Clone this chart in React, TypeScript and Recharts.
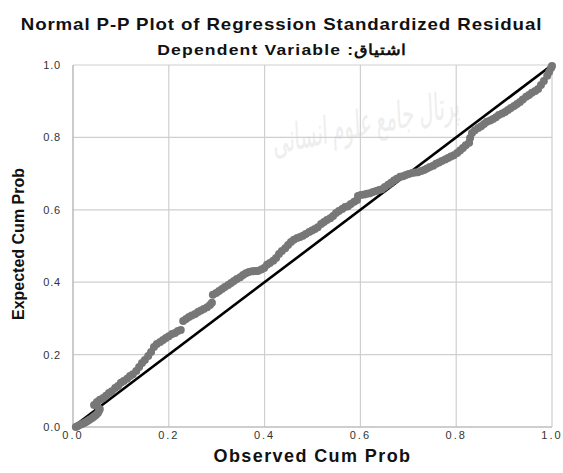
import {
  ScatterChart,
  Scatter,
  XAxis,
  YAxis,
  CartesianGrid,
  ReferenceLine,
} from "recharts";

const observed = [
  0.006, 0.01, 0.015, 0.019, 0.023, 0.027, 0.031, 0.035, 0.04, 0.044,
  0.048, 0.052, 0.054, 0.056,
  0.044, 0.05, 0.056, 0.063, 0.069, 0.075, 0.081, 0.088, 0.094, 0.1,
  0.106, 0.113, 0.119, 0.125, 0.132, 0.138, 0.144, 0.15, 0.157, 0.163,
  0.169, 0.175, 0.182, 0.188, 0.194, 0.2, 0.207, 0.213, 0.219, 0.225,
  0.23, 0.236, 0.242, 0.248, 0.255, 0.261, 0.267, 0.273, 0.28, 0.286,
  0.29,
  0.292, 0.299, 0.305, 0.311, 0.317, 0.324, 0.33, 0.336, 0.342, 0.349,
  0.355, 0.361, 0.367, 0.374, 0.38, 0.386, 0.393, 0.399, 0.405, 0.411,
  0.418, 0.424, 0.43, 0.436, 0.443, 0.449, 0.455, 0.461, 0.468, 0.474,
  0.48, 0.486, 0.493, 0.499, 0.505, 0.511, 0.518, 0.524, 0.53, 0.537,
  0.543, 0.549, 0.555, 0.562, 0.568, 0.574, 0.58, 0.587, 0.593,
  0.595, 0.601, 0.608, 0.614, 0.62, 0.626, 0.633, 0.639, 0.645, 0.651,
  0.658, 0.664, 0.67, 0.676, 0.683, 0.689, 0.695, 0.701, 0.708, 0.714,
  0.72, 0.727, 0.733, 0.739, 0.745, 0.752, 0.758, 0.764, 0.77, 0.777,
  0.783, 0.789, 0.795, 0.802, 0.808, 0.814, 0.82, 0.827,
  0.829, 0.833, 0.839, 0.846, 0.852, 0.858, 0.864, 0.871, 0.877, 0.883,
  0.889, 0.896, 0.902, 0.908, 0.914, 0.921, 0.927, 0.933, 0.939, 0.946,
  0.952, 0.958, 0.965, 0.971, 0.977, 0.983, 0.99, 0.994, 0.998, 1.0,
];
const expected = [
  0.0, 0.003, 0.006, 0.008, 0.011, 0.014, 0.017, 0.021, 0.025, 0.029,
  0.033, 0.039, 0.044, 0.05,
  0.061, 0.069, 0.075, 0.08, 0.086, 0.094, 0.099, 0.108, 0.113, 0.122,
  0.127, 0.133, 0.141, 0.146, 0.155, 0.166, 0.177, 0.185, 0.196, 0.207,
  0.221, 0.229, 0.235, 0.24, 0.246, 0.251, 0.257, 0.26, 0.265, 0.268,
  0.293, 0.298, 0.304, 0.308, 0.312, 0.318, 0.322, 0.326, 0.331, 0.337,
  0.343,
  0.365, 0.37, 0.376, 0.381, 0.387, 0.392, 0.398, 0.403, 0.409, 0.414,
  0.42, 0.425, 0.428, 0.43, 0.431, 0.431, 0.435, 0.439, 0.448, 0.453,
  0.459, 0.467, 0.478, 0.486, 0.494, 0.503, 0.511, 0.517, 0.522, 0.525,
  0.528, 0.533, 0.539, 0.543, 0.547, 0.552, 0.561, 0.566, 0.572, 0.577,
  0.583, 0.591, 0.597, 0.602, 0.608, 0.61, 0.616, 0.622, 0.627,
  0.638, 0.641, 0.642, 0.644, 0.646, 0.649, 0.652, 0.655, 0.657, 0.663,
  0.669, 0.675, 0.681, 0.686, 0.691, 0.693, 0.696, 0.699, 0.702, 0.703,
  0.704, 0.707, 0.71, 0.714, 0.718, 0.722, 0.727, 0.731, 0.735, 0.739,
  0.743, 0.747, 0.751, 0.757, 0.764, 0.771, 0.778, 0.785,
  0.798, 0.812, 0.82, 0.826, 0.831, 0.837, 0.843, 0.847, 0.851, 0.856,
  0.862, 0.866, 0.87, 0.876, 0.881, 0.887, 0.892, 0.898, 0.905, 0.912,
  0.917, 0.923, 0.928, 0.934, 0.945, 0.956, 0.97, 0.981, 0.992, 0.997,
];
const ticks = [0, 0.2, 0.4, 0.6, 0.8, 1.0];

const points = observed.map((x, i) => ({ x, y: expected[i] }));

const font = "Liberation Sans, Arial, sans-serif";

const Dot = (props: any) => (
  <circle cx={props.cx} cy={props.cy} r={4} fill="#777777" />
);

export default function App() {
  return (
    <div
      style={{
        position: "absolute",
        left: 0,
        top: 0,
        width: 563,
        height: 473,
        background: "#fff",
        fontFamily: font,
        overflow: "hidden",
      }}
    >
      {/* faint watermark behind the plot */}
      <div
        style={{
          position: "absolute",
          left: 280,
          top: 110,
          width: 180,
          textAlign: "center",
          fontSize: 19,
          color: "#eeeeee",
          direction: "rtl",
          whiteSpace: "nowrap",
          transform: "scaleY(2) rotate(-6deg)",
        }}
      >
        پرتال جامع علوم انسانی
      </div>

      <div
        style={{
          position: "absolute",
          left: 0,
          top: 15,
          width: 563,
          textAlign: "center",
          fontSize: 17,
          fontWeight: "bold",
          color: "#111",
          letterSpacing: 0.8,
          whiteSpace: "nowrap",
          transform: "scaleX(1.1)",
        }}
      >
        Normal P-P Plot of Regression Standardized Residual
      </div>
      <div
        style={{
          position: "absolute",
          left: 0,
          top: 41,
          width: 563,
          textAlign: "center",
          fontSize: 15,
          fontWeight: "bold",
          color: "#111",
          letterSpacing: 1,
          whiteSpace: "nowrap",
          transform: "scaleX(1.17)",
        }}
      >
        Dependent Variable :اشتیاق
      </div>

      <div style={{ position: "absolute", left: 0, top: 0 }}>
        <ScatterChart
          width={563}
          height={473}
          margin={{ top: 65, right: 11, bottom: 26, left: 43 }}
        >
          <CartesianGrid stroke="#cfcfcf" strokeWidth={1.2} />
          <XAxis
            type="number"
            dataKey="x"
            domain={[0, 1]}
            ticks={ticks}
            tickFormatter={(v: number) => v.toFixed(1)}
            tick={{ fontSize: 11, fill: "#333", fontFamily: font, letterSpacing: 2 }}
            tickLine={false}
            tickSize={0}
            axisLine={{ stroke: "#b5b5b5" }}
            height={20}
            tickMargin={4}
          />
          <YAxis
            type="number"
            dataKey="y"
            domain={[0, 1]}
            ticks={ticks}
            tickFormatter={(v: number) => v.toFixed(1)}
            tick={{ fontSize: 11, fill: "#333", fontFamily: font, letterSpacing: 0.8 }}
            tickLine={false}
            tickSize={0}
            axisLine={{ stroke: "#b5b5b5" }}
            width={30}
            tickMargin={12}
          />
          <Scatter data={points} shape={Dot} isAnimationActive={false} />
          <ReferenceLine
            segment={[
              { x: 0, y: 0 },
              { x: 1, y: 1 },
            ]}
            stroke="#000"
            strokeWidth={2.6}
          />
        </ScatterChart>
      </div>

      <div
        style={{
          position: "absolute",
          left: 73,
          top: 446,
          width: 479,
          textAlign: "center",
          fontSize: 18,
          fontWeight: "bold",
          color: "#111",
          letterSpacing: 1.4,
          whiteSpace: "nowrap",
        }}
      >
        Observed Cum Prob
      </div>
      <div
        style={{
          position: "absolute",
          left: 18.5,
          top: 244,
          fontSize: 16,
          fontWeight: "bold",
          color: "#111",
          whiteSpace: "nowrap",
          transform: "translate(-50%, -50%) rotate(-90deg)",
        }}
      >
        Expected Cum Prob
      </div>
    </div>
  );
}
